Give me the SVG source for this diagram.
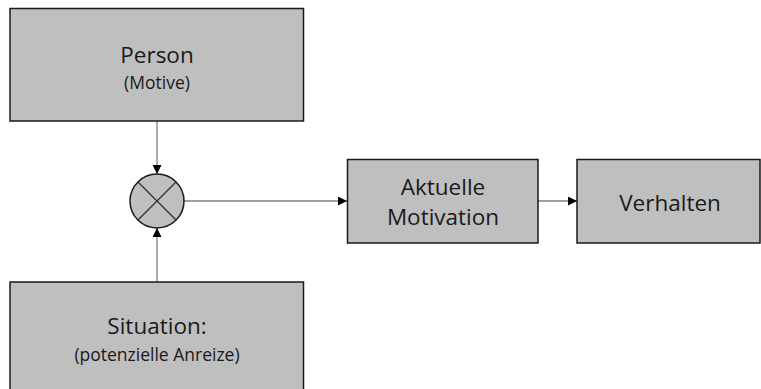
<svg xmlns="http://www.w3.org/2000/svg" width="761" height="389" viewBox="0 0 761 389">
<style>
.box{fill:#bfbfbf;stroke:#1a1a1a;stroke-width:1.5}
.t{font-family:"Open Sans","Liberation Sans",sans-serif;fill:#1a1a1a;text-anchor:middle}
.big{font-size:22.5px}
.small{font-size:17.5px}
.c{stroke:#808080;stroke-width:1.3;fill:none}
</style>
<defs>
<marker id="ah" viewBox="0 0 10 10" refX="10" refY="5" markerWidth="9" markerHeight="9" markerUnits="userSpaceOnUse" orient="auto">
<path d="M0,0 L10,5 L0,10 z" fill="#000"/>
</marker>
</defs>
<rect width="761" height="389" fill="#fff"/>
<g id="connectors">
<line class="c" x1="157" y1="121" x2="157" y2="174" marker-end="url(#ah)"/>
<line class="c" x1="157" y1="282" x2="157" y2="228" marker-end="url(#ah)"/>
<line class="c" x1="184" y1="201" x2="347" y2="201" marker-end="url(#ah)"/>
<line class="c" x1="538" y1="201" x2="577" y2="201" marker-end="url(#ah)"/>
</g>
<g id="person">
<rect class="box" x="10" y="8.5" width="293.5" height="112.5"/>
<text class="t big" x="157" y="63">Person</text>
<text class="t small" x="157" y="89">(Motive)</text>
</g>
<g id="mult">
<circle class="box" cx="157" cy="201" r="27"/>
<line x1="138" y1="182" x2="176" y2="220" stroke="#333" stroke-width="1.2"/>
<line x1="176" y1="182" x2="138" y2="220" stroke="#333" stroke-width="1.2"/>
</g>
<g id="situation">
<rect class="box" x="10" y="282" width="293.5" height="120"/>
<text class="t big" x="157" y="334">Situation:</text>
<text class="t small" x="157" y="361">(potenzielle Anreize)</text>
</g>
<g id="aktuelle">
<rect class="box" x="347.5" y="159.5" width="190.5" height="83.5"/>
<text class="t big" x="443" y="195">Aktuelle</text>
<text class="t big" x="443" y="225">Motivation</text>
</g>
<g id="verhalten">
<rect class="box" x="577" y="159.5" width="183" height="83.5"/>
<text class="t big" x="670" y="211">Verhalten</text>
</g>
</svg>
